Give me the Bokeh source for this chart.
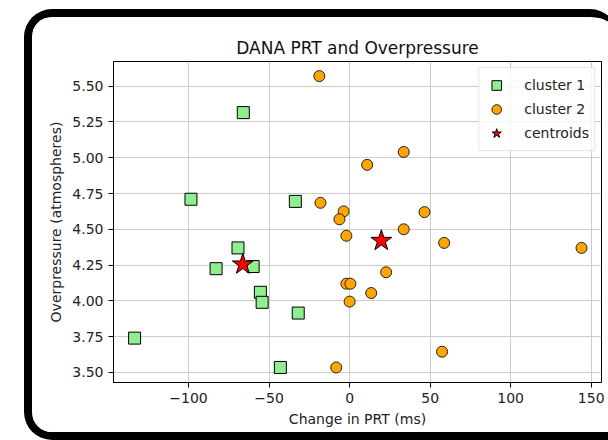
from bokeh.plotting import figure
from bokeh.models import FixedTicker, GlobalInlineStyleSheet
from bokeh.embed import file_html
from bokeh.resources import INLINE

# Change in PRT (ms) and overpressure (atm) for each cluster member
cluster1_prt = [-66.0, -98.5, -33.7, -69.3, -82.9, -59.9, -55.4, -54.3, -31.9, -133.5, -43.0]
cluster1_op = [5.315, 4.71, 4.695, 4.37, 4.225, 4.24, 4.06, 3.99, 3.915, 3.74, 3.535]

cluster2_prt = [-18.8, 10.9, 33.6, -18.1, -3.7, -6.3, -2.0, 46.5, 33.6, 58.7, 144.0,
                22.7, -2.0, 0.5, 13.4, 0.0, -8.3, 57.4]
cluster2_op = [5.57, 4.95, 5.04, 4.685, 4.625, 4.57, 4.455, 4.62, 4.50, 4.405, 4.37,
               4.20, 4.12, 4.12, 4.055, 3.995, 3.535, 3.645]

centroid_prt = [-66.3, 19.7]
centroid_op = [4.255, 4.42]

x_ticks = [-100, -50, 0, 50, 100, 150]
x_tick_labels = ["\u2212100", "\u221250", "0", "50", "100", "150"]
y_ticks = [3.5, 3.75, 4.0, 4.25, 4.5, 4.75, 5.0, 5.25, 5.5]
y_tick_labels = ["3.50", "3.75", "4.00", "4.25", "4.50", "4.75", "5.00", "5.25", "5.50"]

FONT = "DejaVu Sans"

# the chart sits inside a thick rounded black frame whose right side runs off the page
page_css = GlobalInlineStyleSheet(css="html, body { margin: 0; overflow: hidden; }")

p = figure(
    width=594, height=431,
    x_range=(-146.6, 156.4), y_range=(3.43, 5.672),
    title="DANA PRT and Overpressure",
    output_backend="svg", toolbar_location=None,
    min_border_left=81, min_border_right=25, min_border_top=44, min_border_bottom=66,
    background_fill_color="white", border_fill_color="white",
    margin=(9, 0, 0, 24),
    styles={"border": "8px solid black", "border-right": "0px solid black",
            "border-radius": "28px 28px 0px 28px", "overflow": "hidden"},
    stylesheets=[page_css],
)

p.title.align = "center"
p.title.text_font = FONT
p.title.text_font_size = "17px"
p.title.text_font_style = "normal"
p.title.text_color = "#111111"
p.title.standoff = 8

p.outline_line_color = "black"
p.outline_line_width = 1
p.outline_line_alpha = 1

p.xaxis.ticker = FixedTicker(ticks=x_ticks)
p.yaxis.ticker = FixedTicker(ticks=y_ticks)
p.xaxis.major_label_overrides = dict(zip(x_ticks, x_tick_labels))
p.yaxis.major_label_overrides = dict(zip(y_ticks, y_tick_labels))

p.xaxis.axis_label = "Change in PRT (ms)"
p.yaxis.axis_label = "Overpressure (atmospheres)"

for ax in (p.xaxis[0], p.yaxis[0]):
    ax.axis_line_color = "black"
    ax.axis_line_width = 1
    ax.major_tick_out = 5
    ax.major_tick_in = 0
    ax.major_tick_line_color = "black"
    ax.minor_tick_out = 0
    ax.minor_tick_in = 0
    ax.major_label_text_font = FONT
    ax.major_label_text_font_size = "14px"
    ax.major_label_text_color = "#222222"
    ax.major_label_standoff = 5
    ax.axis_label_text_font = FONT
    ax.axis_label_text_font_size = "14px"
    ax.axis_label_text_font_style = "normal"
    ax.axis_label_text_color = "#222222"
    ax.axis_label_standoff = 5

p.grid.grid_line_color = "#cccccc"
p.grid.grid_line_width = 1

p.scatter(cluster1_prt, cluster1_op, marker="square", size=12,
          fill_color="lightgreen", line_color="black", line_width=1,
          legend_label="cluster 1")
p.scatter(cluster2_prt, cluster2_op, marker="circle", size=11,
          fill_color="orange", line_color="#222222", line_width=1,
          legend_label="cluster 2")
p.scatter(centroid_prt, centroid_op, marker="star", size=22,
          fill_color="red", line_color="black", line_width=1,
          legend_label="centroids")

leg = p.legend[0]
leg.location = "top_right"
leg.margin = 6
leg.padding = 5
leg.spacing = 0
leg.glyph_width = 24
leg.glyph_height = 24
leg.label_height = 22
leg.label_standoff = 16
leg.label_text_font = FONT
leg.label_text_font_size = "14px"
leg.label_text_color = "#222222"
leg.border_line_color = "#cccccc"
leg.border_line_width = 1
leg.background_fill_alpha = 0.8

open("out.html", "w").write(file_html(p, INLINE))
